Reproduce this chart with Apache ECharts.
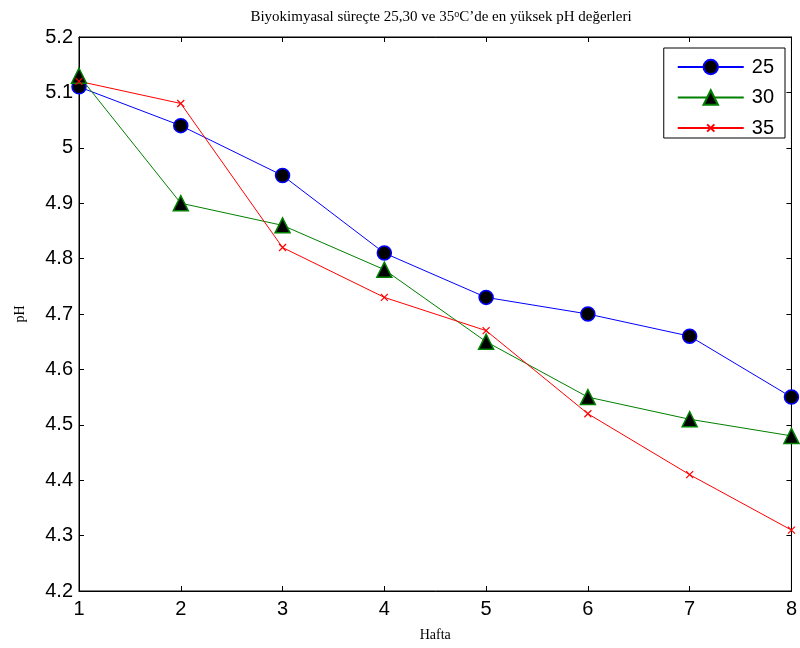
<!DOCTYPE html>
<html><head><meta charset="utf-8">
<script src="https://cdn.jsdelivr.net/npm/echarts@6/dist/echarts.min.js"></script>
<style>html,body{margin:0;padding:0;background:#fff}#c{width:800px;height:648px}</style>
</head><body><div id="c"></div>
<script>
const weeks = ['1','2','3','4','5','6','7','8'];
const ph25 = [5.11, 5.04, 4.95, 4.81, 4.73, 4.70, 4.66, 4.55];
const ph30 = [5.13, 4.90, 4.86, 4.78, 4.65, 4.55, 4.51, 4.48];
const ph35 = [5.12, 5.08, 4.82, 4.73, 4.67, 4.52, 4.41, 4.31];
const seriesNames = ['25', '30', '35'];
const titleText = 'Biyokimyasal süreçte 25,30 ve 35{sup|o}C’de en yüksek pH değerleri';

const chart = echarts.init(document.getElementById('c'));
const sans = 'Liberation Sans, Arial, sans-serif';
const serif = 'Liberation Serif, Times New Roman, serif';
const axisLine = {show: true, lineStyle: {color: '#000', width: 1}};
const tickIn = {show: true, inside: true, length: 5, lineStyle: {color: '#000'}};
const crossPath = 'path://M-5,-5M15,15M0,0L10,10M10,0L0,10';
chart.setOption({
  animation: false,
  backgroundColor: '#fff',
  title: {
    text: titleText, left: 436, top: 4, textAlign: 'center',
    textStyle: {fontFamily: serif, fontSize: 15, fontWeight: 'normal', color: '#000',
      rich: {sup: {fontFamily: serif, fontSize: 10, verticalAlign: 'top', padding: [0,0,6,0]}}}
  },
  grid: {left: 79, right: 7, top: 37, bottom: 57, show: true, borderColor: '#000', borderWidth: 1},
  legend: {
    data: seriesNames, orient: 'vertical', right: 15, top: 48,
    itemWidth: 66, itemHeight: 18, itemGap: 10.5,
    padding: [9, 11, 0, 13],
    borderColor: '#000', borderWidth: 1, backgroundColor: '#fff',
    textStyle: {fontFamily: sans, fontSize: 20, color: '#000', padding: [0, 0, 0, 3]}
  },
  xAxis: [{
    type: 'category', data: weeks, boundaryGap: false,
    name: 'Hafta', nameLocation: 'middle', nameGap: 37,
    nameTextStyle: {fontFamily: serif, fontSize: 14, color: '#000'},
    axisLine: axisLine, axisTick: tickIn,
    axisLabel: {fontFamily: sans, fontSize: 20, color: '#000', margin: 8},
    splitLine: {show: false}
  }, {
    type: 'category', data: weeks, boundaryGap: false, position: 'top',
    axisLine: axisLine, axisTick: tickIn, axisLabel: {show: false}, splitLine: {show: false}
  }],
  yAxis: [{
    type: 'value', min: 4.2, max: 5.2, interval: 0.1,
    name: 'pH', nameLocation: 'middle', nameGap: 52, nameRotate: 90,
    nameTextStyle: {fontFamily: serif, fontSize: 14, color: '#000'},
    axisLine: axisLine, axisTick: tickIn,
    axisLabel: {fontFamily: sans, fontSize: 20, color: '#000', margin: 6,
      formatter: v => String(Math.round(v * 10) / 10)},
    splitLine: {show: false}
  }, {
    type: 'value', min: 4.2, max: 5.2, interval: 0.1, position: 'right',
    axisLine: axisLine, axisTick: tickIn, axisLabel: {show: false}, splitLine: {show: false}
  }],
  series: [{
    name: seriesNames[0], type: 'line', data: ph25,
    symbol: 'circle', symbolSize: 14,
    lineStyle: {color: '#0000ff', width: 1},
    itemStyle: {color: '#000', borderColor: '#0000ff', borderWidth: 1.5}
  }, {
    name: seriesNames[1], type: 'line', data: ph30,
    symbol: 'triangle', symbolSize: 15,
    lineStyle: {color: '#008000', width: 1},
    itemStyle: {color: '#000', borderColor: '#008000', borderWidth: 1.5}
  }, {
    name: seriesNames[2], type: 'line', data: ph35,
    symbol: crossPath, symbolSize: 14,
    lineStyle: {color: '#ff0000', width: 1},
    itemStyle: {color: 'none', borderColor: '#ff0000', borderWidth: 1.2}
  }]
});
</script></body></html>
